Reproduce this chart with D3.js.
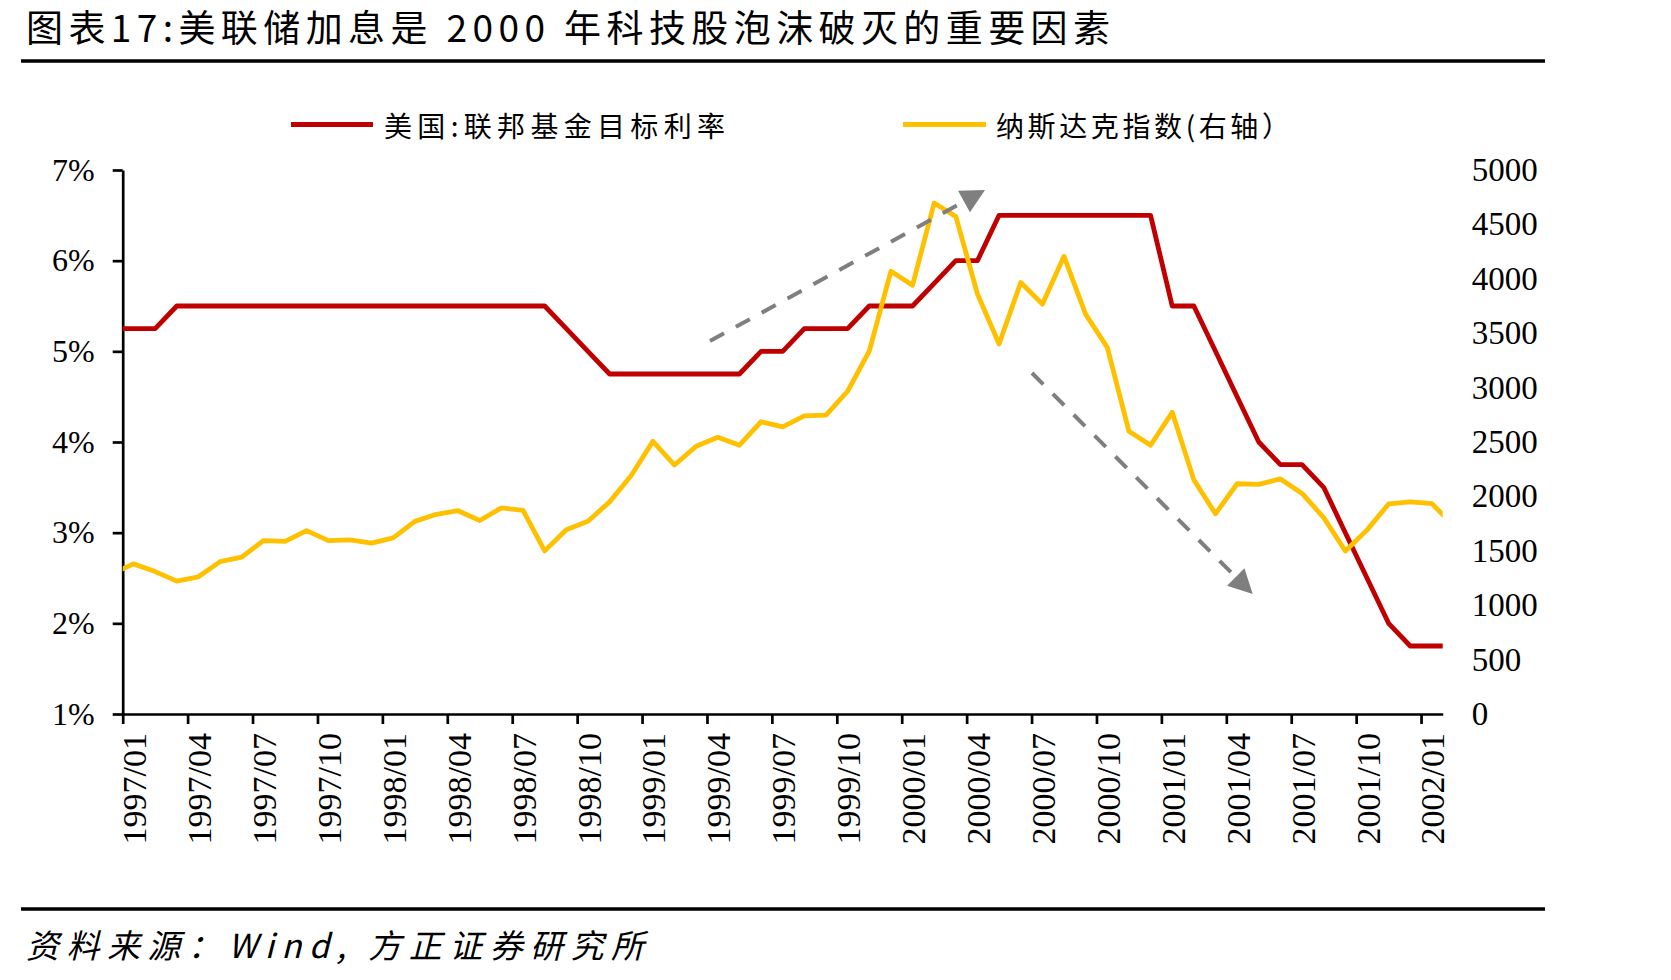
<!DOCTYPE html>
<html><head><meta charset="utf-8">
<script src="https://cdn.jsdelivr.net/npm/d3@7"></script>
<style>body{margin:0;background:#fff} svg{display:block}</style>
</head><body>
<svg id="chart" width="1671" height="980"></svg>
<script>
// ---------- DATA ----------
const titleText = "图表17:美联储加息是 2000 年科技股泡沫破灭的重要因素";
const sourceText = "资料来源：Wind, 方正证券研究所";
const seriesNames = ["美国:联邦基金目标利率", "纳斯达克指数(右轴）"];

const months = [
  "1996/12",
  "1997/01","1997/02","1997/03","1997/04","1997/05","1997/06","1997/07","1997/08","1997/09","1997/10","1997/11","1997/12",
  "1998/01","1998/02","1998/03","1998/04","1998/05","1998/06","1998/07","1998/08","1998/09","1998/10","1998/11","1998/12",
  "1999/01","1999/02","1999/03","1999/04","1999/05","1999/06","1999/07","1999/08","1999/09","1999/10","1999/11","1999/12",
  "2000/01","2000/02","2000/03","2000/04","2000/05","2000/06","2000/07","2000/08","2000/09","2000/10","2000/11","2000/12",
  "2001/01","2001/02","2001/03","2001/04","2001/05","2001/06","2001/07","2001/08","2001/09","2001/10","2001/11","2001/12",
  "2002/01","2002/02"
];
const fedRate = [
  5.25,
  5.25,5.25,5.50,5.50,5.50,5.50,5.50,5.50,5.50,5.50,5.50,5.50,
  5.50,5.50,5.50,5.50,5.50,5.50,5.50,5.50,5.25,5.00,4.75,4.75,
  4.75,4.75,4.75,4.75,4.75,5.00,5.00,5.25,5.25,5.25,5.50,5.50,
  5.50,5.75,6.00,6.00,6.50,6.50,6.50,6.50,6.50,6.50,6.50,6.50,
  5.50,5.50,5.00,4.50,4.00,3.75,3.75,3.50,3.00,2.50,2.00,1.75,
  1.75,1.75
];
const nasdaq = [
  1291.03,
  1379.85,1309.00,1221.70,1260.76,1400.32,1442.07,1593.81,1587.32,1685.69,1593.61,1600.55,1570.35,
  1619.36,1770.51,1835.68,1868.41,1778.87,1894.74,1872.39,1499.25,1693.84,1771.39,1949.54,2192.69,
  2505.89,2288.03,2461.40,2542.85,2470.52,2686.12,2638.49,2739.35,2746.16,2966.43,3336.16,4069.31,
  3940.35,4696.69,4572.83,3860.66,3400.91,3966.11,3766.99,4206.35,3672.82,3369.63,2597.93,2470.52,
  2772.73,2151.83,1840.26,2116.24,2110.49,2160.54,2027.13,1805.43,1498.80,1690.20,1930.58,1950.40,
  1934.03,1731.49
];
const xTickLabels = ["1997/01","1997/04","1997/07","1997/10","1998/01","1998/04","1998/07","1998/10",
  "1999/01","1999/04","1999/07","1999/10","2000/01","2000/04","2000/07","2000/10",
  "2001/01","2001/04","2001/07","2001/10","2002/01"];
const leftTicks = [1,2,3,4,5,6,7];
const rightTicks = [0,500,1000,1500,2000,2500,3000,3500,4000,4500,5000];
// trend arrows, in (month offset, Nasdaq value) units
const arrows = [
  {m0: 27.14, v0: 3428, m1: 39.85, v1: 4816},
  {m0: 42.02, v0: 3134, m1: 52.22, v1: 1103}
];

// ---------- CHART ----------
const RED = "#C00000", YELLOW = "#FFC000", GRAY = "#7F7F7F";
const CJK = "'Noto Sans CJK SC','Noto Sans CJK JP',sans-serif";
const SERIF = "'Liberation Serif','Times New Roman',serif";
const svg = d3.select("#chart");

const monthPos = s => { const [y, m] = s.split("/").map(Number); return (y - 1997) * 12 + (m - 1); };

const x = d3.scaleLinear().domain([0, 61]).range([122.7, 1442.7]);
const yL = d3.scaleLinear().domain([1, 7]).range([714, 170]);
const yR = d3.scaleLinear().domain([0, 5000]).range([714, 170]);

// title + rules
svg.append("text").attr("x", 26).attr("y", 26).attr("dominant-baseline", "central")
  .attr("font-family", CJK).attr("font-size", 37).attr("fill", "#000")
  .attr("textLength", 1084).attr("lengthAdjust", "spacing").text(titleText);
svg.append("line").attr("x1", 21).attr("x2", 1545).attr("y1", 61).attr("y2", 61)
  .attr("stroke", "#000").attr("stroke-width", 3.5);
svg.append("line").attr("x1", 21).attr("x2", 1545).attr("y1", 909).attr("y2", 909)
  .attr("stroke", "#000").attr("stroke-width", 3.5);
svg.append("text").attr("x", 26).attr("y", 944).attr("dominant-baseline", "central")
  .attr("font-family", CJK).attr("font-style", "italic").attr("font-size", 33).attr("fill", "#000")
  .attr("textLength", 618).attr("lengthAdjust", "spacing").text(sourceText);

// legend
const legend = [
  {name: seriesNames[0], color: RED, x0: 291, x1: 373, tx: 384, tl: 341},
  {name: seriesNames[1], color: YELLOW, x0: 903, x1: 986, tx: 996, tl: 294}
];
legend.forEach(l => {
  svg.append("line").attr("x1", l.x0).attr("x2", l.x1).attr("y1", 124.5).attr("y2", 124.5)
    .attr("stroke", l.color).attr("stroke-width", 5);
  svg.append("text").attr("x", l.tx).attr("y", 124.5).attr("dominant-baseline", "central")
    .attr("font-family", CJK).attr("font-size", 28).attr("fill", "#000")
    .attr("textLength", l.tl).attr("lengthAdjust", "spacing").text(l.name);
});

// axes
function styleAxis(g, fs) {
  g.attr("font-family", SERIF).attr("font-size", fs);
  g.selectAll("path,line").attr("stroke", "#000").attr("stroke-width", 2.7);
  g.selectAll("text").attr("fill", "#000");
}
const gL = svg.append("g").attr("transform", `translate(${x(0)},0)`)
  .call(d3.axisLeft(yL).tickValues(leftTicks).tickSize(10).tickSizeOuter(0).tickPadding(18).tickFormat(d => d + "%"));
styleAxis(gL, 32);

const gR = svg.append("g").attr("transform", `translate(${x(61)},0)`)
  .call(d3.axisRight(yR).tickValues(rightTicks).tickSize(0).tickPadding(29).tickFormat(d3.format("d")));
styleAxis(gR, 33);
gR.select(".domain").remove();

const gX = svg.append("g").attr("transform", `translate(0,${yL(1)})`)
  .call(d3.axisBottom(x).tickValues(xTickLabels.map(monthPos)).tickSize(10).tickSizeOuter(0)
    .tickFormat((d, i) => xTickLabels[i]));
styleAxis(gX, 34);
gX.selectAll(".tick text")
  .attr("transform", "rotate(-90)")
  .attr("text-anchor", "end")
  .attr("x", -19).attr("y", 11).attr("dy", "0.35em");

// clip for lines
svg.append("clipPath").attr("id", "plotClip").append("rect")
  .attr("x", x(0)).attr("y", 0).attr("width", x(61) - x(0)).attr("height", 980);

const xm = i => x(monthPos(months[i]) + 0.5);
const lineRate = d3.line().x((d, i) => xm(i)).y(d => yL(d));
const lineNas = d3.line().x((d, i) => xm(i)).y(d => yR(d));

const plot = svg.append("g").attr("clip-path", "url(#plotClip)");
plot.append("path").datum(fedRate).attr("d", lineRate).attr("fill", "none")
  .attr("stroke", RED).attr("stroke-width", 4.8).attr("stroke-linejoin", "round");
plot.append("path").datum(nasdaq).attr("d", lineNas).attr("fill", "none")
  .attr("stroke", YELLOW).attr("stroke-width", 4.8).attr("stroke-linejoin", "round");

// arrows
arrows.forEach(a => {
  const x1 = x(a.m0), y1 = yR(a.v0), x2 = x(a.m1), y2 = yR(a.v1);
  const dx = x2 - x1, dy = y2 - y1, L = Math.hypot(dx, dy), ux = dx / L, uy = dy / L;
  const hl = 24, hw = 12.3;
  const bx = x2 - ux * hl, by = y2 - uy * hl;
  svg.append("line").attr("x1", x1).attr("y1", y1).attr("x2", bx).attr("y2", by)
    .attr("stroke", GRAY).attr("stroke-width", 4).attr("stroke-dasharray", "16,13.5");
  svg.append("polygon")
    .attr("points", [[x2, y2], [bx - uy * hw, by + ux * hw], [bx + uy * hw, by - ux * hw]].map(p => p.join(",")).join(" "))
    .attr("fill", GRAY);
});
</script>
</body></html>
